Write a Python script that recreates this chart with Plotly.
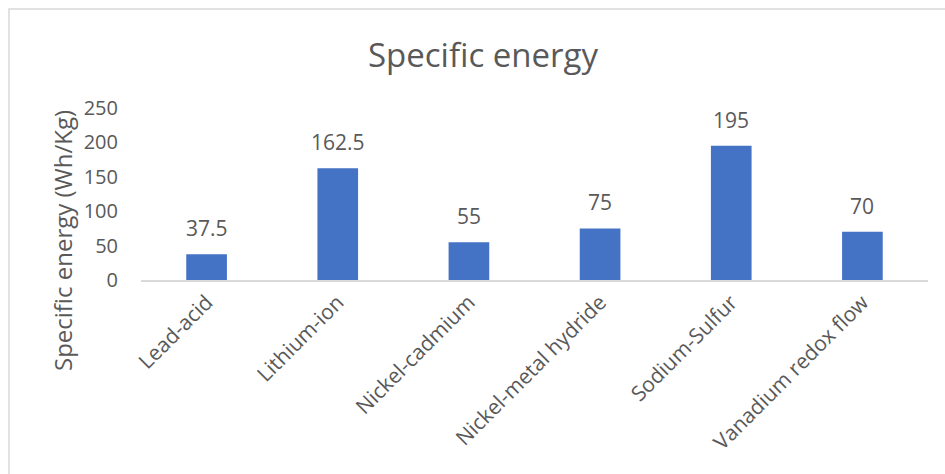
import plotly.graph_objects as go

categories = ["Lead-acid", "Lithium-ion", "Nickel-cadmium", "Nickel-metal hydride", "Sodium-Sulfur", "Vanadium redox flow"]
values = [37.5, 162.5, 55, 75, 195, 70]
y_ticks = [0, 50, 100, 150, 200, 250]

W, H = 945, 474
L, R, T, B = 141, 17, 108, 194
pw, ph = W - L - R, H - T - B

def px(x):
    return (x - L) / pw

def py(y):
    return (H - B - y) / ph

FONT = "Open Sans"
GREY = "#595959"

fig = go.Figure(go.Bar(x=categories, y=values, marker=dict(color="#4472c4", line=dict(width=0)),
                       width=0.31, hoverinfo="x+y"))

for c, v in zip(categories, values):
    fig.add_annotation(x=c, y=v, text=f"{v:g}", showarrow=False, yanchor="bottom", yshift=10,
                       font=dict(family=FONT, size=21, color=GREY))

fig.add_annotation(xref="paper", yref="paper", x=px(483), y=py(55), text="Specific energy",
                   showarrow=False, xanchor="center", yanchor="middle",
                   font=dict(family=FONT, size=33, color=GREY))
fig.add_annotation(xref="paper", yref="paper", x=px(62), y=py(241), text="Specific energy (Wh/Kg)",
                   showarrow=False, textangle=-90, xanchor="center", yanchor="middle",
                   font=dict(family=FONT, size=24, color=GREY))

fig.add_shape(type="rect", xref="paper", yref="paper", x0=px(9), x1=px(960), y0=py(9), y1=py(490),
              line=dict(color="#d9d9d9", width=1.5), fillcolor="rgba(0,0,0,0)", layer="below")

fig.update_layout(
    width=W, height=H, margin=dict(l=L, r=R, t=T, b=B, autoexpand=False),
    paper_bgcolor="white", plot_bgcolor="white", showlegend=False,
    font=dict(family=FONT, color=GREY),
    xaxis=dict(showline=True, linecolor="#d9d9d9", linewidth=1.5, tickangle=-45, ticks="",
               tickfont=dict(family=FONT, size=21, color=GREY), showgrid=False, fixedrange=True),
    yaxis=dict(range=[0, 250], tickvals=y_ticks, showgrid=False, zeroline=False, showline=False,
               ticks="", ticklabelstandoff=22, tickfont=dict(family=FONT, size=20, color=GREY),
               fixedrange=True),
)

fig.write_html("out.html", config={"displayModeBar": False},
               post_script="document.body.style.margin='0';document.body.style.overflow='hidden';")
